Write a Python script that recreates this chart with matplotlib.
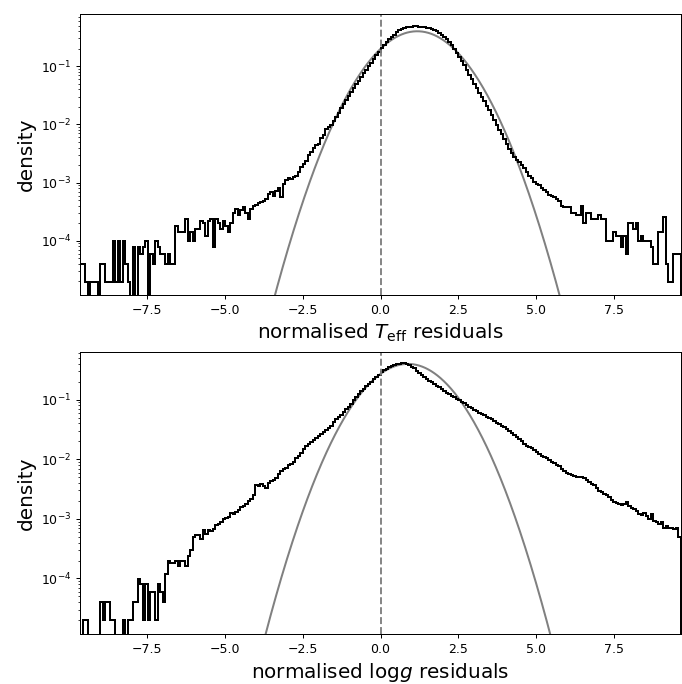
import numpy as np
import matplotlib.pyplot as plt

# counts per bin (240 bins from -9.65 to 9.65)
teff_counts = [2, 2, 1, 0, 1, 1, 1, 0, 2, 2,
               1, 1, 1, 5, 1, 5, 1, 5, 2, 1,
               0, 4, 0, 4, 3, 4, 5, 0, 3, 2,
               5, 4, 3, 3, 2, 3, 2, 2, 9, 7,
               7, 7, 12, 5, 7, 5, 8, 8,
               11, 10, 6, 11, 12, 4, 12, 10, 8, 11,
               9, 7, 10, 15, 18, 14, 17, 19, 15, 12,
               18, 20, 21, 22, 23, 24, 26, 32, 34, 30,
               36, 40, 28, 48, 56, 60, 58, 62, 66, 75,
               95, 105, 120, 150, 170, 200, 220, 235, 290, 330,
               420, 450,
               500, 580, 680, 800, 950, 1130, 1330, 1550, 1800, 2100,
               2450, 2850, 3300, 3800, 4350, 5000, 5800, 6700, 7700, 8800,
               10200, 11600, 13000, 14500, 16000, 17600, 19200, 20800, 22000, 22900,
               23500, 23900, 24200, 24300, 24300, 24200, 24000, 23600, 23100, 22500,
               22000, 21400, 20200, 18800, 17500, 16000, 14500, 13000, 11500, 10000,
               8600, 7300, 6200, 5200, 4300, 3600, 3000, 2500, 2100, 1750,
               1480, 1280, 1050, 900, 740, 610, 500, 410, 345, 285,
               230, 190, 162, 140, 125, 112, 100, 90, 75, 66,
               60, 52, 48, 45, 40, 37, 34, 31, 29, 28, 26,
               24, 20, 19, 19, 19, 15, 15, 14, 14, 20,
               10, 15, 15, 12, 12, 12, 14, 12, 12, 5,
               5, 5, 7, 6, 6, 4, 6, 3, 10, 10,
               8, 10, 5, 6, 5, 5, 5, 4, 2, 2,
               7, 7, 13, 2, 1, 1, 3, 3, 3]

logg_counts = [0, 1, 1, 0, 0, 0, 0, 0, 2, 1,
               2, 2, 1, 1, 0, 0, 0, 1, 0, 1,
               1, 2, 2, 5, 4, 1, 4, 1, 3, 3,
               1, 4, 3, 2, 6, 10, 9, 9, 10, 8,
               10, 10, 8, 12, 15, 25, 27, 27,
               23, 33, 28, 33, 32, 34, 40, 42, 45, 50,
               52, 55, 62, 60, 66, 72, 80, 84, 90, 100,
               110, 125, 185, 180, 190, 182, 168, 205, 215, 228,
               240, 290, 320, 340, 360, 400, 420, 450, 520, 570,
               640, 740, 830, 900, 980, 1060, 1150, 1250, 1350, 1450,
               1570, 1700, 1850, 2150, 2350, 2550, 2800, 3100, 3450, 3800,
               4300, 4900, 5600, 6300,
               7000, 7700, 8400, 9200, 10000, 11000, 12100, 13300, 14600, 15700,
               16700, 17600, 18400, 19100, 19700, 20300, 20600, 20500, 20100, 19200,
               18100, 16800, 15500, 14200, 13000, 12000, 11200, 10500, 9800, 9200,
               8700, 8100, 7600, 7100, 6600, 6200, 5850, 5550, 5250, 4950,
               4650, 4350, 4050, 3800, 3580, 3380, 3200, 3050, 2900, 2750,
               2620, 2480, 2340, 2220, 2080, 1960, 1850, 1720, 1610, 1500,
               1390, 1290, 1190, 1100, 1010, 920, 840, 810, 770, 720,
               670, 615, 580, 550, 525, 490, 460, 435, 410, 385,
               350, 320, 295, 280, 270, 265, 258, 252,
               250, 240, 228, 210, 195, 185, 165, 150, 140, 132,
               126, 115, 104, 98, 93, 88, 85, 90, 95, 82,
               78, 74, 68, 60, 58, 62, 56, 50, 60, 46,
               44, 42, 44, 36, 38, 35, 36, 34, 36, 25]

n_total = 625000
x_lo, x_hi = -9.65, 9.65
mu_teff, mu_logg, sigma = 1.18, 0.88, 1.0
xticks = [-7.5, -5.0, -2.5, 0.0, 2.5, 5.0, 7.5]

edges = np.linspace(x_lo, x_hi, len(teff_counts) + 1)
width = edges[1] - edges[0]

fig = plt.figure(figsize=(682 / 90, 684 / 90), dpi=90)
ax1 = fig.add_axes([80 / 682, 1 - 295 / 684, 601 / 682, 281 / 684])
ax2 = fig.add_axes([80 / 682, 1 - 634 / 684, 601 / 682, 282 / 684])

panels = [(ax1, teff_counts, mu_teff, r'normalised $T_{\rm eff}$ residuals', 0.79),
          (ax2, logg_counts, mu_logg, r'normalised log$g$ residuals', 0.632)]

xs = np.linspace(x_lo, x_hi, 1000)
for ax, counts, mu, label, ytop in panels:
    gauss = np.exp(-0.5 * ((xs - mu) / sigma) ** 2) / (sigma * np.sqrt(2 * np.pi))
    ax.plot(xs, gauss, color='grey', lw=1.6)
    dens = np.array(counts) / (n_total * width)
    ax.hist(edges[:-1], bins=edges, weights=dens, histtype='step', color='k', lw=1.6)
    ax.axvline(0, color='grey', ls='--', lw=1.5)
    ax.set_yscale('log')
    ax.set_xlim(x_lo, x_hi)
    ax.set_ylim(1.17e-5, ytop)
    ax.set_xticks(xticks)
    ax.set_xlabel(label, fontsize=16)
    ax.set_ylabel('density', fontsize=16)

fig.savefig('out.png', dpi=90)
